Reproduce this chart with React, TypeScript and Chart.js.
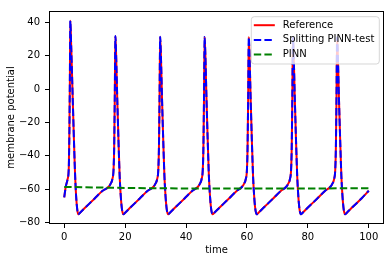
import React, { useEffect, useRef } from 'react';
import { Chart, registerables } from 'chart.js';

Chart.register(...registerables);

// ---- data ----
const timeRef = [
  0, 0.5, 1.1, 1.5, 1.7, 1.85, 2.0, 2.3, 2.7, 3.1, 3.5, 3.9, 4.3, 4.6, 5.2, 7.0, 10.0, 12.5,
  14.6, 15.3, 15.8, 16.2, 16.4, 16.6, 16.8, 17.05, 17.4, 17.8, 18.2, 18.6, 19.0, 19.4, 20.0, 21.8, 24.8, 27.3,
  29.3, 30.0, 30.5, 30.9, 31.1, 31.3, 31.5, 31.75, 32.1, 32.5, 32.9, 33.3, 33.7, 34.1, 34.7, 36.5, 39.5, 42.0,
  43.9, 44.6, 45.1, 45.5, 45.7, 45.9, 46.1, 46.35, 46.7, 47.1, 47.5, 47.9, 48.3, 48.7, 49.3, 51.1, 54.1, 56.6,
  58.4, 59.1, 59.6, 60.0, 60.2, 60.4, 60.6, 60.85, 61.2, 61.6, 62.0, 62.4, 62.8, 63.2, 63.8, 65.6, 68.6, 71.1,
  72.9, 73.6, 74.1, 74.5, 74.7, 74.9, 75.1, 75.35, 75.7, 76.1, 76.5, 76.9, 77.3, 77.7, 78.3, 80.1, 83.1, 85.6,
  87.4, 88.1, 88.6, 89.0, 89.2, 89.4, 89.6, 89.85, 90.2, 90.6, 91.0, 91.4, 91.8, 92.2, 92.8, 94.6, 97.6, 100,
];
const vRef = [
  -64.8, -58.5, -54, -47, -25, 5, 41, 25, 0, -25, -48, -64, -72.5, -75, -74, -70.8, -65.5, -61,
  -58.5, -56.5, -54, -48, -35, -5, 31.8, 20, -5, -30, -52, -65, -72.5, -75, -74, -70.8, -65.5, -61,
  -58.5, -56.5, -54, -48, -35, -5, 31.4, 20, -5, -30, -52, -65, -72.5, -75, -74, -70.8, -65.5, -61,
  -58.5, -56.5, -54, -48, -35, -5, 31.2, 20, -5, -30, -52, -65, -72.5, -75, -74, -70.8, -65.5, -61,
  -58.5, -56.5, -54, -48, -35, -5, 31.2, 20, -5, -30, -52, -65, -72.5, -75, -74, -70.8, -65.5, -61,
  -58.5, -56.5, -54, -48, -35, -5, 31.0, 20, -5, -30, -52, -65, -72.5, -75, -74, -70.8, -65.5, -61,
  -58.5, -56.5, -54, -48, -35, -5, 31.0, 20, -5, -30, -52, -65, -72.5, -75, -74, -70.8, -65.5, -60.9,
];
const vSplit = [
  -64.8, -58.5, -54, -47, -25, 5, 41, 25, 0, -25, -48, -64, -72.5, -75, -74, -70.8, -65.5, -61,
  -58.5, -56.5, -54, -48, -35, -5, 31.8, 20, -5, -30, -52, -65, -72.5, -75, -74, -70.8, -65.5, -61,
  -58.5, -56.5, -54, -48, -35, -5, 31.4, 20, -5, -30, -52, -65, -72.5, -75, -74, -70.8, -65.5, -61,
  -58.5, -56.5, -54, -48, -35, -5, 31.2, 20, -5, -30, -52, -65, -72.5, -75, -74, -70.8, -65.5, -61,
  -58.5, -56.5, -54, -48, -35, -5, 31.2, 20, -5, -30, -52, -65, -72.5, -75, -74, -70.8, -65.5, -61,
  -58.5, -56.5, -54, -48, -35, -5, 31.0, 20, -5, -30, -52, -65, -72.5, -75, -74, -70.8, -65.5, -61,
  -58.5, -56.5, -54, -48, -35, -5, 31.0, 20, -5, -30, -52, -65, -72.5, -75, -74, -70.8, -65.5, -60.9,
];
const timePinn = [0, 20, 40, 60, 80, 100];
const vPinn = [-58.6, -59.2, -59.5, -59.6, -59.5, -59.4];

const xTicks = [0, 20, 40, 60, 80, 100];
const yTicks = [-80, -60, -40, -20, 0, 20, 40];
const seriesLabels = ['Reference', 'Splitting PINN-test', 'PINN'];
const seriesColors = ['#ff0000', '#0000ff', '#008000'];
const xTitle = 'time';
const yTitle = 'membrane potential';

const FONT = "'DejaVu Sans', sans-serif";
const DASH = [7.4, 3.2];

export default function App() {
  const ref = useRef<HTMLCanvasElement>(null);

  useEffect(() => {
    document.body.style.margin = '0';
    const canvas = ref.current!;
    const pts = (xs: number[], ys: number[]) => xs.map((x, i) => ({ x, y: ys[i] }));
    const minus = (v: any) => String(v).replace('-', '\u2212');

    const framePlugin = {
      id: 'mplFrameLegend',
      afterDraw(chart: any) {
        const c = chart.ctx as CanvasRenderingContext2D;
        const a = chart.chartArea;
        c.save();
        // frame (all four spines)
        c.strokeStyle = '#000';
        c.lineWidth = 1;
        c.strokeRect(Math.round(a.left) + 0.5, Math.round(a.top) + 0.5,
          Math.round(a.right - a.left) - 1, Math.round(a.bottom - a.top) - 1);

        // legend
        c.font = `10px ${FONT}`;
        const maxW = Math.max(...seriesLabels.map((s) => c.measureText(s).width));
        const right = a.right - 4.7;
        const top = a.top + 5.7;
        const w = 31.5 + maxW + 5;
        const h = 47.3;
        const left = right - w;
        const r = 3;
        c.beginPath();
        c.moveTo(left + r, top);
        c.lineTo(right - r, top);
        c.quadraticCurveTo(right, top, right, top + r);
        c.lineTo(right, top + h - r);
        c.quadraticCurveTo(right, top + h, right - r, top + h);
        c.lineTo(left + r, top + h);
        c.quadraticCurveTo(left, top + h, left, top + h - r);
        c.lineTo(left, top + r);
        c.quadraticCurveTo(left, top, left + r, top);
        c.closePath();
        c.fillStyle = 'rgba(255,255,255,0.8)';
        c.fill();
        c.strokeStyle = 'rgba(204,204,204,0.8)';
        c.lineWidth = 1;
        c.stroke();

        const rows = [top + 8.5, top + 23.2, top + 37.9];
        seriesLabels.forEach((lab, i) => {
          const y = rows[i];
          c.beginPath();
          c.setLineDash(i === 0 ? [] : DASH);
          c.strokeStyle = seriesColors[i];
          c.lineWidth = 2;
          c.moveTo(left + 2.5, y);
          c.lineTo(left + 23.5, y);
          c.stroke();
          c.setLineDash([]);
          c.fillStyle = '#000';
          c.textBaseline = 'middle';
          c.textAlign = 'left';
          c.fillText(lab, left + 31.5, y);
        });
        c.restore();
      },
    };

    const gridOpts = {
      display: true,
      drawOnChartArea: false,
      drawTicks: true,
      tickLength: 4,
      color: '#000',
      lineWidth: 1,
    };

    const chart = new Chart(canvas, {
      type: 'line',
      data: {
        datasets: [
          {
            label: seriesLabels[0],
            data: pts(timeRef, vRef),
            borderColor: seriesColors[0],
            borderWidth: 2,
            pointRadius: 0,
            fill: false,
            order: 2,
            cubicInterpolationMode: 'monotone',
          },
          {
            label: seriesLabels[1],
            data: pts(timeRef, vSplit),
            borderColor: seriesColors[1],
            borderWidth: 2,
            borderDash: DASH,
            pointRadius: 0,
            fill: false,
            order: 1,
            cubicInterpolationMode: 'monotone',
          },
          {
            label: seriesLabels[2],
            data: pts(timePinn, vPinn),
            borderColor: seriesColors[2],
            borderWidth: 2,
            borderDash: DASH,
            pointRadius: 0,
            fill: false,
            order: 0,
            cubicInterpolationMode: 'monotone',
          },
        ],
      },
      options: {
        animation: false,
        responsive: false,
        devicePixelRatio: 1,
        layout: { padding: { left: 0, right: 7, top: 6, bottom: 0 } },
        plugins: { legend: { display: false }, tooltip: { enabled: false } },
        scales: {
          x: {
            type: 'linear',
            min: -5,
            max: 105,
            afterBuildTicks: (s: any) => { s.ticks = xTicks.map((v) => ({ value: v })); },
            afterFit: (s: any) => { s.height = 38; },
            grid: gridOpts,
            border: { display: false },
            ticks: {
              font: { family: FONT, size: 10 },
              color: '#000',
              padding: 3,
              maxRotation: 0,
              autoSkip: false,
              callback: minus,
            },
            title: {
              display: true,
              text: xTitle,
              font: { family: FONT, size: 10 },
              color: '#000',
              padding: { top: 0, bottom: 6 },
            },
          },
          y: {
            type: 'linear',
            min: -80.8,
            max: 46.8,
            afterBuildTicks: (s: any) => { s.ticks = yTicks.map((v) => ({ value: v })); },
            afterFit: (s: any) => { s.width = 49; },
            grid: gridOpts,
            border: { display: false },
            ticks: {
              font: { family: FONT, size: 10 },
              color: '#000',
              padding: 5,
              autoSkip: false,
              callback: minus,
            },
            title: {
              display: true,
              text: yTitle,
              font: { family: FONT, size: 10 },
              color: '#000',
              padding: { top: 5, bottom: 0 },
            },
          },
        },
      },
      plugins: [framePlugin],
    } as any);

    return () => chart.destroy();
  }, []);

  return (
    <div style={{ width: 391, height: 262 }}>
      <canvas ref={ref} width={391} height={262} style={{ display: 'block' }} />
    </div>
  );
}
